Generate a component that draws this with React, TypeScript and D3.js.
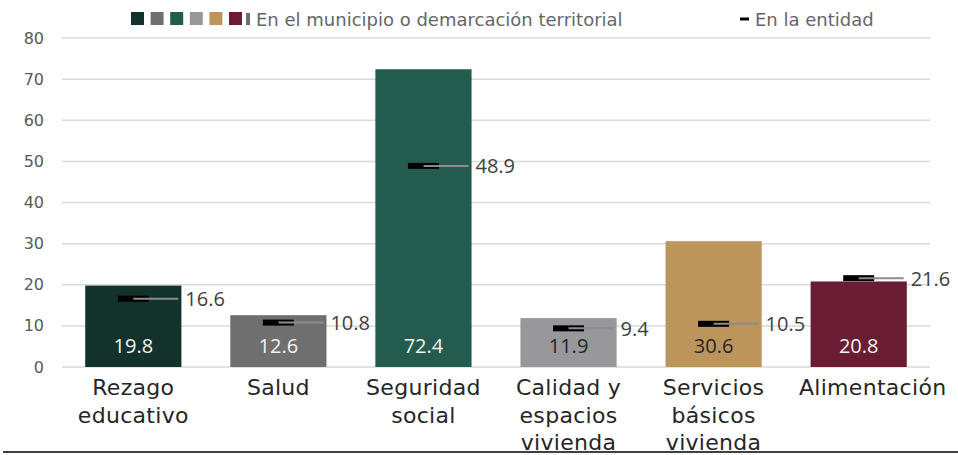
import { scaleBand, scaleLinear } from "d3";
import type { ReactElement } from "react";

const categories: ReadonlyArray<ReadonlyArray<string>> = [
  ["Rezago", "educativo"],
  ["Salud"],
  ["Seguridad", "social"],
  ["Calidad y", "espacios", "vivienda"],
  ["Servicios", "básicos", "vivienda"],
  ["Alimentación"],
];
const municipioValues = [19.8, 12.6, 72.4, 11.9, 30.6, 20.8];
const entidadValues = [16.6, 10.8, 48.9, 9.4, 10.5, 21.6];
const barColors = ["#13322b", "#6f6f6f", "#235b4e", "#98989a", "#bc955c", "#691c32"];
const barLabelColors = ["#f2f2f2", "#f2f2f2", "#f2f2f2", "#262626", "#262626", "#f2f2f2"];
const yTicks = [0, 10, 20, 30, 40, 50, 60, 70, 80];
const legendMunicipio = "En el municipio o demarcación territorial";
const legendEntidad = "En la entidad";

const WIDTH = 958;
const HEIGHT = 455;
const LEFT = 62;
const RIGHT = 930;
const TOP = 38;
const BOTTOM = 367;

const LABEL_FONT = "'DejaVu Sans', sans-serif";
const NUM_FONT = "'Open Sans', sans-serif";

const fmt = (v: number): string => v.toFixed(1);

const App = (): ReactElement => {
  const x = scaleBand<number>()
    .domain(municipioValues.map((_, i) => i))
    .range([LEFT, RIGHT])
    .paddingInner(0.337)
    .paddingOuter(0.16);
  const y = scaleLinear().domain([0, 80]).range([BOTTOM, TOP]);
  const bw = x.bandwidth();

  return (
    <svg
      width={WIDTH}
      height={HEIGHT}
      viewBox={`0 0 ${WIDTH} ${HEIGHT}`}
      style={{ position: "fixed", left: 0, top: 0, background: "#fff" }}
    >
      {/* gridlines + y ticks */}
      {yTicks.map((t) => (
        <g key={t}>
          <line x1={LEFT} x2={RIGHT} y1={y(t)} y2={y(t)} stroke="#d9d9d9" strokeWidth={1.5} />
          <text
            x={44}
            y={y(t)}
            textAnchor="end"
            dominantBaseline="central"
            fontFamily={LABEL_FONT}
            fontSize={16}
            fill="#595959"
          >
            {t}
          </text>
        </g>
      ))}

      {/* bars */}
      {municipioValues.map((v, i) => {
        const bx = x(i) ?? 0;
        return (
          <g key={`bar-${i}`}>
            <rect x={bx} y={y(v)} width={bw} height={y(0) - y(v)} fill={barColors[i]} />
            <text
              x={bx + bw / 2}
              y={353}
              textAnchor="middle"
              fontFamily={NUM_FONT}
              fontSize={20}
              fill={barLabelColors[i]}
            >
              {fmt(v)}
            </text>
          </g>
        );
      })}

      {/* entity markers */}
      {entidadValues.map((v, i) => {
        const cx = (x(i) ?? 0) + bw / 2;
        const my = y(v);
        return (
          <g key={`ent-${i}`}>
            <rect x={cx - 15.5} y={my - 3} width={31} height={6} fill="#000" />
            <line x1={cx} x2={cx + 45} y1={my} y2={my} stroke="#8c8c8c" strokeWidth={2} />
            <text
              x={cx + 52}
              y={my}
              dominantBaseline="central"
              fontFamily={NUM_FONT}
              fontSize={20}
              fill="#404040"
            >
              {fmt(v)}
            </text>
          </g>
        );
      })}

      {/* x labels */}
      {categories.map((lines, i) => {
        const cx = (x(i) ?? 0) + bw / 2;
        return (
          <text
            key={`cat-${i}`}
            textAnchor="middle"
            fontFamily={LABEL_FONT}
            fontSize={22}
            letterSpacing={0.3}
            fill="#262626"
          >
            {lines.map((ln, j) => (
              <tspan key={j} x={cx + (i === 5 ? 14 : 0)} y={395 + j * 27.5}>
                {ln}
              </tspan>
            ))}
          </text>
        );
      })}

      {/* legend */}
      <g>
        {barColors.map((c, i) => (
          <rect key={c} x={131 + i * 19.6} y={12} width={13} height={13} fill={c} />
        ))}
        <rect x={246} y={13} width={4} height={12} fill="#6f6f6f" />
        <text x={256} y={19} dominantBaseline="central" fontFamily={LABEL_FONT} fontSize={18} fill="#666">
          {legendMunicipio}
        </text>
        <rect x={740} y={17.5} width={9} height={3} fill="#000" />
        <text x={755} y={19} dominantBaseline="central" fontFamily={LABEL_FONT} fontSize={18} fill="#666">
          {legendEntidad}
        </text>
      </g>

      <line x1={3} x2={WIDTH} y1={452} y2={452} stroke="#404040" strokeWidth={2} />
    </svg>
  );
};

export default App;
